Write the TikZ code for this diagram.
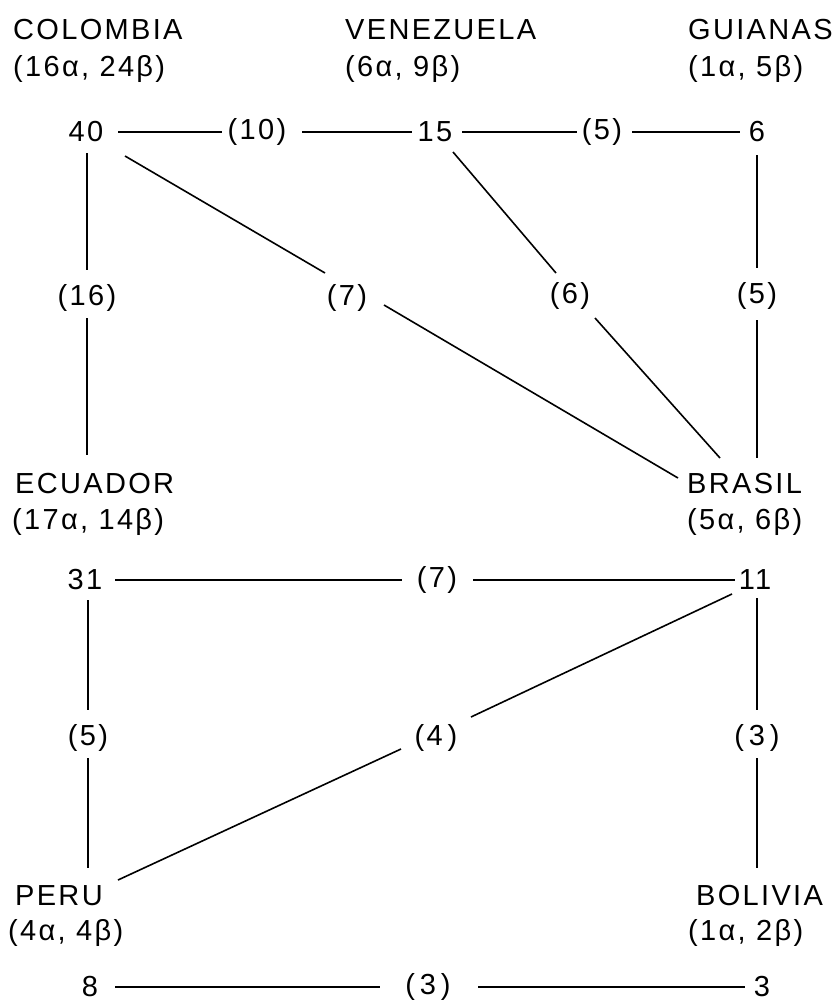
\documentclass[tikz,border=0pt]{standalone}
\usepackage{fontspec}
\setmainfont{Liberation Sans}[LetterSpace=8]
\usetikzlibrary{calc}
\begin{document}
\begin{tikzpicture}[x=1pt,y=-1pt,
  txt/.style={inner sep=0pt, font=\fontsize{29}{34}\selectfont},
  cname/.style={txt, anchor=base west},
  num/.style={txt, anchor=center},
  link/.style={line width=1.6pt, black}]
\path[use as bounding box, fill=white] (0,0) rectangle (839,1002);
% country names and counts
\node[cname] (colN) at (13,39) {COLOMBIA};
\node[cname] (colC) at (13,76) {(16α, 24β)};
\node[cname] (venN) at (345,39) {VENEZUELA};
\node[cname] (venC) at (345,76) {(6α, 9β)};
\node[cname] (guiN) at (688,39) {GUIANAS};
\node[cname] (guiC) at (688,76) {(1α, 5β)};
\node[cname] (ecuN) at (15,493) {ECUADOR};
\node[cname] (ecuC) at (12,529) {(17α, 14β)};
\node[cname] (braN) at (687,493) {BRASIL};
\node[cname] (braC) at (687,529) {(5α, 6β)};
\node[cname] (perN) at (15,905) {PERU};
\node[cname] (perC) at (8,940) {(4α, 4β)};
\node[cname] (bolN) at (696,905) {BOLIVIA};
\node[cname] (bolC) at (688,940) {(1α, 2β)};
% totals and link weights
\node[num] (n40) at (86,132) {40};
\node[num] (l10) at (257,132) {(10)};
\node[num] (n15) at (435,132) {15};
\node[num] (l5a) at (602,132) {(5)};
\node[num] (n6) at (757,132) {6};
\node[num] (l16) at (87,298) {(16)};
\node[num] (l7a) at (347,298) {(7)};
\node[num] (l6) at (570,296) {(6)};
\node[num] (l5b) at (757,296) {(5)};
\node[num] (n31) at (85,580) {31};
\node[num] (l7b) at (437,580) {(7)};
\node[num] (n11) at (755,580) {11};
\node[num] (l5c) at (88,738) {(5)};
\node[num] (l4) at (436,738) {(4\,)};
\node[num] (l3a) at (757,738) {(\,3\,)};
\node[num] (n8) at (90,987) {8};
\node[num] (l3b) at (428,987) {(\,3\,)};
\node[num] (n3) at (762,987) {3};
% connectors
\draw[link] ($(n40)+(32,0)$) -- ($(l10)+(-35,0)$);
\draw[link] ($(l10)+(45,0)$) -- ($(n15)+(-23,0)$);
\draw[link] ($(n15)+(27,0)$) -- ($(l5a)+(-25,0)$);
\draw[link] ($(l5a)+(30,0)$) -- ($(n6)+(-17,0)$);
\draw[link] ($(n40)+(1,21)$) -- ($(l16)+(0,-28)$);
\draw[link] ($(l16)+(0,20)$) -- ($(ecuN.base west)+(72,-38)$);
\draw[link] ($(n40)+(39,24)$) -- ($(l7a)+(-22,-25)$);
\draw[link] ($(l7a)+(37,7)$) -- ($(braN.base west)+(-9,-15)$);
\draw[link] ($(n15)+(18,20)$) -- ($(l6)+(-14,-23)$);
\draw[link] ($(l6)+(25,22)$) -- ($(braN.base west)+(33,-35)$);
\draw[link] ($(n6)+(0,23)$) -- ($(l5b)+(0,-28)$);
\draw[link] ($(l5b)+(0,24)$) -- ($(braN.base west)+(70,-35)$);
\draw[link] ($(n31)+(30,0)$) -- ($(l7b)+(-35,0)$);
\draw[link] ($(l7b)+(36,0)$) -- ($(n11)+(-20,0)$);
\draw[link] ($(n31)+(3,20)$) -- ($(l5c)+(0,-28)$);
\draw[link] ($(l5c)+(0,20)$) -- ($(perN.base west)+(73,-37)$);
\draw[link] ($(n11)+(-23,14)$) -- ($(l4)+(35,-21)$);
\draw[link] ($(l4)+(-35,11)$) -- ($(perN.base west)+(103,-25)$);
\draw[link] ($(n11)+(2,18)$) -- ($(l3a)+(0,-28)$);
\draw[link] ($(l3a)+(0,20)$) -- ($(bolN.base west)+(61,-37)$);
\draw[link] ($(n8)+(25,0)$) -- ($(l3b)+(-48,0)$);
\draw[link] ($(l3b)+(50,0)$) -- ($(n3)+(-17,0)$);
\end{tikzpicture}
\end{document}
